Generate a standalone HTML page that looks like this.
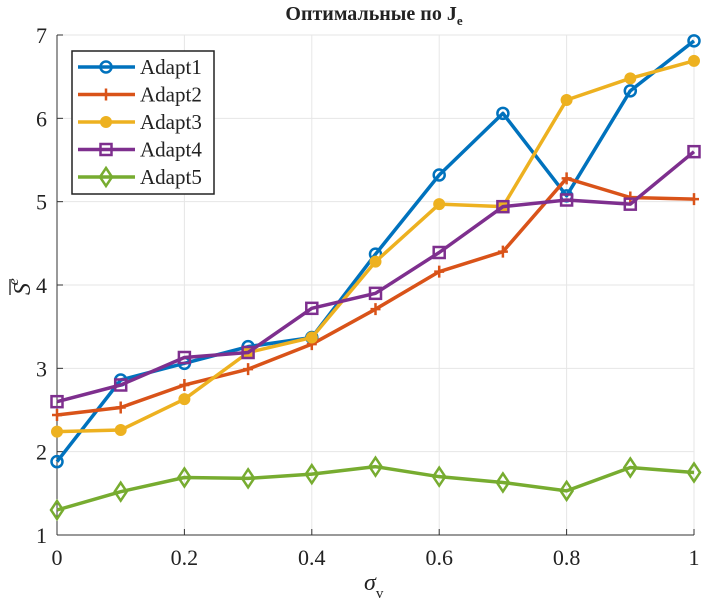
<!DOCTYPE html>
<html><head><meta charset="utf-8">
<style>
body{margin:0;background:#fff;width:707px;height:607px;overflow:hidden}
svg text{font-family:"Liberation Serif",serif;fill:#222}
</style></head><body>
<svg id="chart" width="707" height="607">
<text x="374" y="20" text-anchor="middle" font-size="20" font-weight="bold">Оптимальные по J<tspan font-size="13" dy="5">e</tspan></text>
<g id="grid"></g>
<g id="axes"></g>
<g id="series"></g>
<text x="364" y="590" font-size="24" font-style="italic">σ<tspan font-size="15" font-style="normal" dy="8">v</tspan></text>
<g transform="translate(30,285) rotate(-90)">
<text x="-10" y="0" font-size="24" font-style="italic">S<tspan font-size="15" dy="-12" dx="-2">e</tspan></text>
<line x1="-10" y1="-20" x2="6" y2="-20" stroke="#222" stroke-width="1.3"/>
</g>
<g id="legend"></g>
</svg>
<script>
const xs=[0,0.1,0.2,0.3,0.4,0.5,0.6,0.7,0.8,0.9,1];
const adapt1=[1.88,2.86,3.06,3.26,3.37,4.37,5.32,6.06,5.07,6.33,6.93];
const adapt2=[2.44,2.53,2.80,2.99,3.29,3.71,4.16,4.40,5.28,5.05,5.03];
const adapt3=[2.24,2.26,2.63,3.19,3.37,4.28,4.97,4.94,6.22,6.48,6.69];
const adapt4=[2.60,2.80,3.13,3.19,3.72,3.90,4.39,4.94,5.02,4.97,5.60];
const adapt5=[1.30,1.52,1.69,1.68,1.73,1.82,1.70,1.63,1.53,1.81,1.75];
const xTicks=[0,0.2,0.4,0.6,0.8,1];
const yTicks=[1,2,3,4,5,6,7];
const seriesNames=["Adapt1","Adapt2","Adapt3","Adapt4","Adapt5"];

const L=57,R=694,T=35,B=535;
const X=v=>L+(v-0)/(1-0)*(R-L);
const Y=v=>B-(v-1)/(7-1)*(B-T);
const NS="http://www.w3.org/2000/svg";
function mk(tag,attrs,parent){const e=document.createElementNS(NS,tag);for(const k in attrs)e.setAttribute(k,attrs[k]);parent.appendChild(e);return e;}
const grid=document.getElementById('grid'),axes=document.getElementById('axes'),ser=document.getElementById('series'),leg=document.getElementById('legend');
xTicks.forEach(t=>{
 const g=mk('line',{x1:X(t),x2:X(t),y1:T,y2:B,stroke:'#e6e6e6','stroke-width':1},grid);
 
 
 mk('line',{x1:X(t),x2:X(t),y1:B,y2:B-6,stroke:'#333'},axes);
 const tx=mk('text',{x:X(t),y:B+30,'text-anchor':'middle','font-size':22},axes);tx.textContent=String(t);
 
 
});
yTicks.forEach(t=>{
 const g=mk('line',{x1:L,x2:R,y1:Y(t),y2:Y(t),stroke:'#e6e6e6','stroke-width':1},grid);
 
 
 mk('line',{x1:L,x2:L+6,y1:Y(t),y2:Y(t),stroke:'#333'},axes);
 const tx=mk('text',{x:L-10,y:Y(t)+8,'text-anchor':'end','font-size':22},axes);tx.textContent=String(t);
 
 
});
mk('line',{x1:L,x2:L,y1:T,y2:B,stroke:'#333'},axes);
mk('line',{x1:L,x2:R,y1:B,y2:B,stroke:'#333'},axes);

const colors=['#0072BD','#D95319','#EDB120','#7E2F8E','#77AC30'];
const markers=['circle','plus','dot','square','diamond'];
function marker(type,x,y,c,p){
 if(type==='circle')mk('circle',{cx:x,cy:y,r:5.5,fill:'none',stroke:c,'stroke-width':2.5},p);
 else if(type==='dot')mk('circle',{cx:x,cy:y,r:5.5,fill:c,stroke:c},p);
 else if(type==='plus')mk('path',{d:`M${x-5},${y}H${x+5}M${x},${y-6}V${y+6}`,stroke:c,'stroke-width':2.5},p);
 else if(type==='square')mk('rect',{x:x-5.5,y:y-5.5,width:11,height:11,fill:'none',stroke:c,'stroke-width':2.5},p);
 else mk('path',{d:`M${x},${y-9}L${x+6},${y}L${x},${y+9}L${x-6},${y}Z`,fill:'none',stroke:c,'stroke-width':2.5},p);
}
[adapt1,adapt2,adapt3,adapt4,adapt5].forEach((d,i)=>{
 const g=mk('g',{},ser);
 
 
 mk('polyline',{points:d.map((v,j)=>X(xs[j])+','+Y(v)).join(' '),fill:'none',stroke:colors[i],'stroke-width':3.5,'stroke-linejoin':'round'},g);
 d.forEach((v,j)=>marker(markers[i],X(xs[j]),Y(v),colors[i],g));
});
mk('rect',{x:72,y:51,width:142,height:143,fill:'#fff',stroke:'#222','stroke-width':1.5},leg);
seriesNames.forEach((n,i)=>{
 const y=67+i*27.5;
 const g=mk('g',{},leg);
 
 
 mk('line',{x1:78,x2:135,y1:y,y2:y,stroke:colors[i],'stroke-width':3.5},g);
 marker(markers[i],106,y,colors[i],g);
 const t=mk('text',{x:140,y:y+7,'font-size':21},g);t.textContent=n;
});
</script>
</body></html>
